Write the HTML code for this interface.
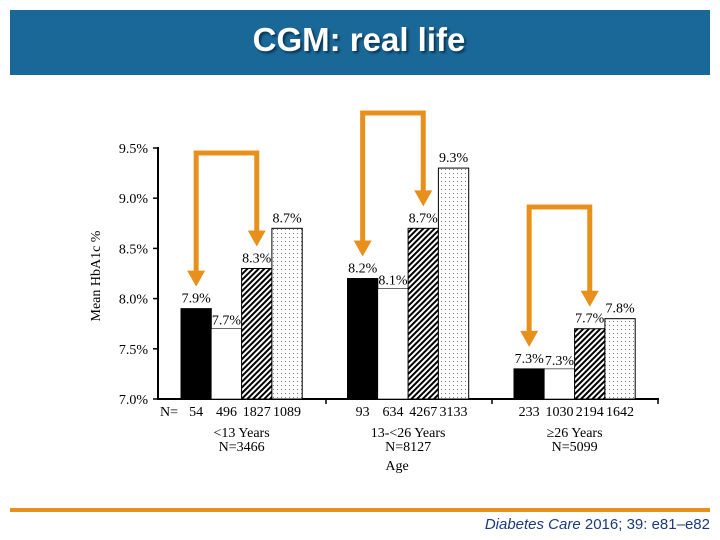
<!DOCTYPE html>
<html><head><meta charset="utf-8"><style>
body{margin:0;width:720px;height:540px;background:#fff;overflow:hidden;position:relative;font-family:"Liberation Serif",serif}
#hdr{position:absolute;left:10px;top:10px;width:700px;height:65px;background:#1a6898}
#title{position:absolute;left:0;width:718px;top:21px;text-align:center;color:#fff;font:bold 33px "Liberation Sans",sans-serif;text-shadow:2px 2px 2px #0a3550}
#rule{position:absolute;left:10px;top:508px;width:700px;height:4px;background:#e8901c}
#cite{position:absolute;right:10px;top:516px;font:15px "Liberation Sans",sans-serif;color:#1a3a7a}
</style></head><body>
<div id="hdr"></div>
<div id="title">CGM: real life</div>
<svg id="chart" width="720" height="540" style="position:absolute;left:0;top:0">
<defs>
<pattern id="hatch" width="4" height="4" patternUnits="userSpaceOnUse" patternTransform="rotate(45)"><rect width="4" height="4" fill="#fff"/><rect width="2" height="4" fill="#000"/></pattern>
<pattern id="dots" width="4" height="4" patternUnits="userSpaceOnUse"><rect width="4" height="4" fill="#fff"/><rect x="1" y="1" width="1" height="1" fill="#777"/></pattern>
</defs>
<g id="g"></g>
</svg>
<div id="rule"></div>
<div id="cite"><i>Diabetes Care</i> 2016; 39: e81–e82</div>
<script>
const groups=["<13 Years","13-<26 Years","\u226526 Years"];
const groupN=["N=3466","N=8127","N=5099"];
const s1=[7.9,8.2,7.3];
const s2=[7.7,8.1,7.3];
const s3=[8.3,8.7,7.7];
const s4=[8.7,9.3,7.8];
const counts=[[54,496,1827,1089],[93,634,4267,3133],[233,1030,2194,1642]];
const yTicks=[7.0,7.5,8.0,8.5,9.0,9.5];
const series=[s1,s2,s3,s4];
const fills=["#000","#fff","url(#hatch)","url(#dots)"];
const NS="http://www.w3.org/2000/svg";
const g=document.getElementById('g');
const y=v=>399-(v-7)*100.4;
const gx=i=>181+i*166.5;
const bw=30.3;
function mk(t,a,txt){const e=document.createElementNS(NS,t);for(const k in a)e.setAttribute(k,a[k]);if(txt!=null)e.textContent=txt;g.appendChild(e);return e;}
let e=mk('line',{x1:158,y1:147,x2:158,y2:400,stroke:'#000','stroke-width':2});

e=mk('line',{x1:157,y1:399,x2:659,y2:399,stroke:'#000','stroke-width':2});

yTicks.forEach(t=>{
 let l=mk('line',{x1:153,y1:y(t),x2:158,y2:y(t),stroke:'#000','stroke-width':1.5});
 
 let tx=mk('text',{x:148,y:y(t)+5,'text-anchor':'end','font-size':14},t.toFixed(1)+'%');
 
});
[326,492,658].forEach(x=>{let l=mk('line',{x1:x,y1:399,x2:x,y2:404,stroke:'#000','stroke-width':1.5});});
let yt=mk('text',{x:100,y:276,'text-anchor':'middle','font-size':14,transform:'rotate(-90 100 276)'},'Mean HbA1c %');

let nl=mk('text',{x:160,y:416,'font-size':14},'N=');

groups.forEach((name,i)=>{
 series.forEach((s,j)=>{
  const x=gx(i)+j*bw;
  let r=mk('rect',{x:x,y:y(s[i]),width:bw,height:399-y(s[i]),fill:fills[j],stroke:'#000','stroke-width':j==1?0.6:1});
  
  let v=mk('text',{x:x+bw/2,y:y(s[i])-(j==1?4:6),'text-anchor':'middle','font-size':14},s[i].toFixed(1)+'%');
  
  let c=mk('text',{x:x+bw/2,y:416,'text-anchor':'middle','font-size':14},counts[i][j]);
  
 });
 const cx=gx(i)+2*bw;
 let gl=mk('text',{x:cx,y:437,'text-anchor':'middle','font-size':14},name);
 
 let gn=mk('text',{x:cx,y:451,'text-anchor':'middle','font-size':14},groupN[i]);
 
});
let ag=mk('text',{x:397,y:470,'text-anchor':'middle','font-size':14},'Age');

const arrowTop=[153,113,207];
groups.forEach((n,i)=>{
 const xa=gx(i)+bw/2, xb=gx(i)+2.5*bw, t=arrowTop[i];
 const ya=y(s1[i])-22, yb=y(s3[i])-22;
 let p=mk('path',{d:`M${xa},${ya-12} L${xa},${t} L${xb},${t} L${xb},${yb-12}`,fill:'none',stroke:'#e8901c','stroke-width':5});
 
 [[xa,ya],[xb,yb]].forEach(([x,yy])=>{let h=mk('polygon',{points:`${x-9},${yy-16} ${x+9},${yy-16} ${x},${yy}`,fill:'#e8901c'});});
});
</script>
</body></html>
